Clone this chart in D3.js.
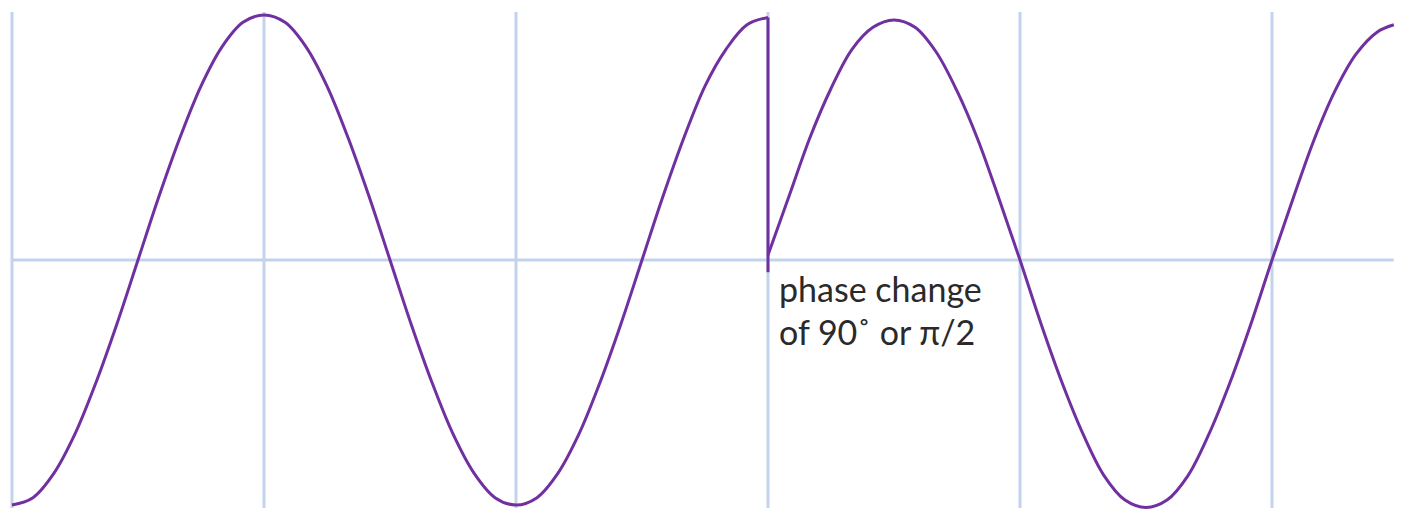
<!DOCTYPE html>
<html>
<head>
<meta charset="utf-8">
<script src="https://cdn.jsdelivr.net/npm/d3@7"></script>
<style>
  html, body { margin: 0; padding: 0; background: #fff; }
  #chartArea { width: 1404px; height: 511px; }
</style>
</head>
<body>
<div id="chartArea"></div>
<script>
// phase angle (degrees) of the vertical grid lines
const gridAngles = [0, 180, 360, 540, 720, 900]

// wave before the phase change, read every 15 degrees
const angles1 = [0, 15, 30, 45, 60, 75, 90, 105, 120, 135, 150, 165, 180,
  195, 210, 225, 240, 255, 270, 285, 300, 315, 330, 345, 360,
  375, 390, 405, 420, 435, 450, 465, 480, 495, 510, 525, 540]
const values1 = [-1.0, -0.97, -0.87, -0.71, -0.5, -0.26, 0, 0.26, 0.5, 0.71, 0.87, 0.97, 1.0,
  0.97, 0.87, 0.71, 0.5, 0.26, 0, -0.26, -0.5, -0.71, -0.87, -0.97, -1.0,
  -0.97, -0.87, -0.71, -0.5, -0.26, 0, 0.26, 0.5, 0.71, 0.86, 0.96, 0.99]

// wave after the phase change
const angles2 = [540, 555, 570, 585, 600, 615, 630, 645, 660, 675, 690, 705, 720,
  735, 750, 765, 780, 795, 810, 825, 840, 855, 870, 885, 900,
  915, 930, 945, 960, 975, 987]
const values2 = [0.02, 0.26, 0.5, 0.7, 0.86, 0.95, 0.98, 0.95, 0.85, 0.69, 0.49, 0.25, 0,
  -0.26, -0.5, -0.71, -0.88, -0.98, -1.01, -0.98, -0.88, -0.71, -0.5, -0.26, 0,
  0.25, 0.49, 0.69, 0.84, 0.93, 0.96]

// vertical jump at the phase change
const jumpAngle = 540
const jumpValues = [0.99, -0.05]

const labelLines = ['phase change', 'of 90˚ or π/2']

const drawGraph = () => {
  const width = 1404
  const height = 511

  const svg = d3
    .select('#chartArea')
    .append('svg')
    .attr('width', width)
    .attr('height', height)

  const xScale = d3.scaleLinear().domain([0, 990]).range([12, 1398])
  const yScale = d3.scaleLinear().domain([-1, 1]).range([505, 15])

  //
  // grid
  //
  svg
    .selectAll('line.vgrid')
    .data(gridAngles)
    .join('line')
    .attr('class', 'vgrid')
    .attr('x1', d => xScale(d))
    .attr('x2', d => xScale(d))
    .attr('y1', 12)
    .attr('y2', 508)
    .attr('stroke', '#c3d3ee')
    .attr('stroke-width', 3)

  svg
    .append('line')
    .attr('x1', xScale(0))
    .attr('x2', xScale(987))
    .attr('y1', yScale(0))
    .attr('y2', yScale(0))
    .attr('stroke', '#c3d3ee')
    .attr('stroke-width', 3)

  //
  // wave
  //
  const line = d3
    .line()
    .x(d => xScale(d[0]))
    .y(d => yScale(d[1]))
    .curve(d3.curveCatmullRom)

  const segs = [d3.zip(angles1, values1), d3.zip(angles2, values2)]

  svg
    .selectAll('path.wave')
    .data(segs)
    .join('path')
    .attr('class', 'wave')
    .attr('d', line)
    .attr('fill', 'none')
    .attr('stroke', '#7030a0')
    .attr('stroke-width', 3)

  svg
    .append('line')
    .attr('x1', xScale(jumpAngle))
    .attr('x2', xScale(jumpAngle))
    .attr('y1', yScale(jumpValues[0]))
    .attr('y2', yScale(jumpValues[1]))
    .attr('stroke', '#7030a0')
    .attr('stroke-width', 3)

  //
  // label
  //
  svg
    .selectAll('text.label')
    .data(labelLines)
    .join('text')
    .attr('class', 'label')
    .attr('x', xScale(jumpAngle) + 11)
    .attr('y', (d, i) => 302 + i * 43)
    .attr('font-family', 'Lato, sans-serif')
    .attr('font-size', 34)
    .attr('fill', '#2a2a2a')
    .text(d => d)
}

drawGraph()
</script>
</body>
</html>
